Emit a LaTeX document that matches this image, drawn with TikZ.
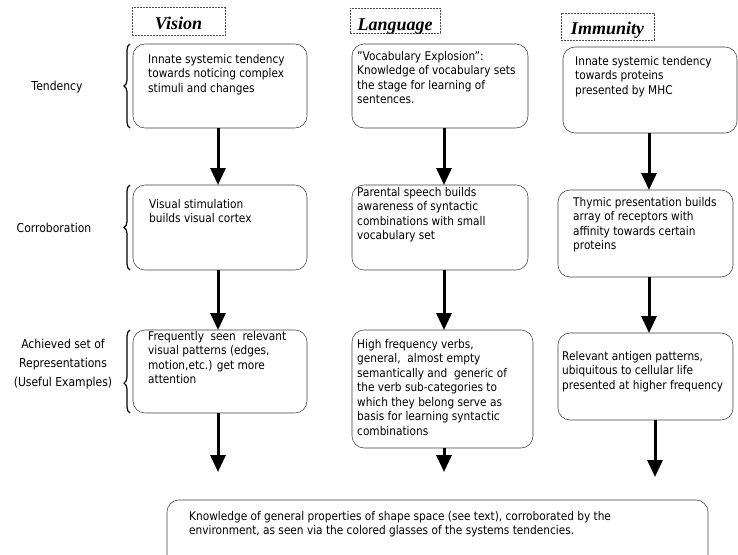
\documentclass[tikz,border=0pt]{standalone}
\usepackage{fontspec}
\setmainfont{DejaVu Sans}[FakeStretch=0.88]
\newfontfamily\hdfont{Liberation Serif}
\usetikzlibrary{arrows.meta,decorations.pathreplacing,calc}
\begin{document}
\begin{tikzpicture}[x=1pt,y=-1pt,
  box/.style={draw=black!75, line width=0.55pt, rounded corners=12pt, inner sep=0pt, outer sep=0pt, anchor=north west},
  hdr/.style={draw=black!70, line width=0.5pt, dash pattern=on 2pt off 1pt, inner sep=0pt, outer sep=0pt,
              text height=18pt, text depth=2pt,
              font=\hdfont\bfseries\itshape\fontsize{18}{20}\selectfont},
  txt/.style={anchor=north west, inner sep=0pt, align=left, font=\fontsize{12}{14.5}\selectfont},
  lbl/.style={inner sep=0pt, align=center, font=\fontsize{12.3}{19}\selectfont},
  arr/.style={line width=3pt, -{Triangle[width=15pt,length=17pt]}},
  brc/.style={line width=1.2pt, decorate, decoration={brace, amplitude=6pt}}
]
\clip (0,0) rectangle (738,554);
\fill[white] (0,0) rectangle (738,554);

% headers
\node[hdr, minimum width=93, minimum height=28] (hv) at (178.5,21.5) {Vision};
\node[hdr, minimum width=90, minimum height=25, text height=20pt, text depth=1pt] (hl) at (395,20.5) {Language};
\node[hdr, minimum width=93, minimum height=27] (hi) at (607.5,26.5) {Immunity};

% row labels
\node[lbl] (lt) at (57,87) {Tendency};
\node[lbl] (lc) at (54,228) {Corroboration};
\node[lbl] (la) at (63,364) {Achieved set of\\Representations\\(Useful Examples)};

% braces
\draw[brc] (130,128) -- (130,44);
\draw[brc] (130,270) -- (130,185);
\draw[brc, decoration={brace, amplitude=6pt, aspect=0.36}] (130,413) -- (130,330);

% row 1
\node[box, minimum width=174, minimum height=84] (v1) at (133,44) {};
\node[box, minimum width=176, minimum height=84] (l1) at (352,44) {};
\node[box, minimum width=174, minimum height=86] (i1) at (563,47) {};
% row 2
\node[box, minimum width=174, minimum height=85] (v2) at (133,185) {};
\node[box, minimum width=176, minimum height=85] (l2) at (352,185) {};
\node[box, minimum width=175, minimum height=87] (i2) at (558,190) {};
% row 3
\node[box, minimum width=174, minimum height=83] (v3) at (133,330) {};
\node[box, minimum width=181, minimum height=118] (l3) at (352,330) {};
\node[box, minimum width=175, minimum height=87] (i3) at (558,333) {};
% bottom
\node[box, minimum width=541, minimum height=80] (b) at (167,500) {};

% texts
\node[txt] (v1t) at ($(v1.north west)+(15,10)$) {Innate systemic tendency\\towards noticing complex\\stimuli and changes};
\node[txt] (l1t) at ($(l1.north west)+(5,7)$) {"Vocabulary Explosion":\\Knowledge of vocabulary sets\\the stage for learning of\\sentences.};
\node[txt] (i1t) at ($(i1.north west)+(12,9)$) {Innate systemic tendency\\towards proteins\\presented by MHC};

\node[txt] (v2t) at ($(v2.north west)+(16,14)$) {Visual stimulation\\builds visual cortex};
\node[txt] (l2t) at ($(l2.north west)+(5,2)$) {Parental speech builds\\awareness of syntactic\\combinations with small\\vocabulary set};
\node[txt] (i2t) at ($(i2.north west)+(15,7)$) {Thymic presentation builds\\array of receptors with\\affinity towards certain\\proteins};

\node[txt] (v3t) at ($(v3.north west)+(15,1)$) {Frequently\ \ seen\ \ relevant\\visual patterns (edges,\\motion,etc.) get more\\attention};
\node[txt] (l3t) at ($(l3.north west)+(5,9)$) {High frequency verbs,\\general,\ \ almost empty\\semantically and\ \ generic of\\the verb sub-categories to\\which they belong serve as\\basis for learning syntactic\\combinations};
\node[txt] (i3t) at ($(i3.north west)+(4,18)$) {Relevant antigen patterns,\\ubiquitous to cellular life\\presented at higher frequency};

\node[txt] (bt) at ($(b.north west)+(22,11)$) {Knowledge of general properties of shape space (see text), corroborated by the\\environment, as seen via the colored glasses of the systems tendencies.};

% free ends
\coordinate (ve) at (218,472);
\coordinate (le) at (444,472);
\coordinate (ie) at (655,477);

% arrows
\draw[arr] ([xshift=-2pt]v1.south) -- ([xshift=-2pt]v1.south |- v2.north);
\draw[arr] ([xshift=-2pt]v2.south) -- ([xshift=-2pt]v2.south |- v3.north);
\draw[arr] ([xshift=-2pt]v3.south) -- (ve);
\draw[arr] ([xshift=4pt]l1.south) -- ([xshift=4pt]l1.south |- l2.north);
\draw[arr] ([xshift=4pt]l2.south) -- ([xshift=4pt]l2.south |- l3.north);
\draw[arr] ([xshift=1.5pt]l3.south) -- (le);
\draw[arr] ([xshift=-1pt]i1.south) -- ([xshift=-1pt]i1.south |- i2.north);
\draw[arr] ([xshift=3.5pt]i2.south) -- ([xshift=3.5pt]i2.south |- i3.north);
\draw[arr] ([xshift=9.5pt]i3.south) -- (ie);
\end{tikzpicture}
\end{document}
